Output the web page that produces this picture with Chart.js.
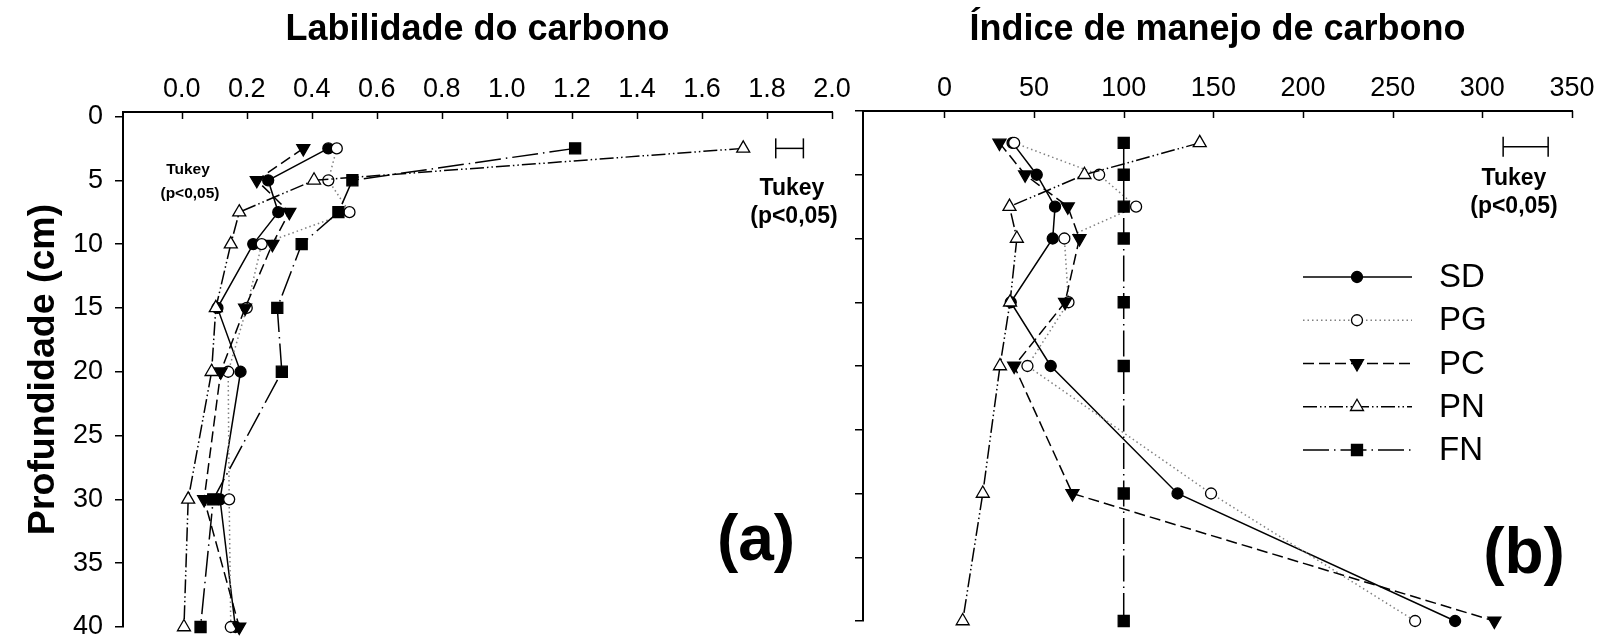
<!DOCTYPE html>
<html><head><meta charset="utf-8">
<script src="https://cdn.jsdelivr.net/npm/chart.js@4/dist/chart.umd.min.js"></script>
<style>
html,body{margin:0;padding:0;background:#fff;overflow:hidden}
#wrap{position:relative;width:1603px;height:640px;background:#fff}
canvas{position:absolute;top:0}
#cA{left:0}
#cB{left:850px}
</style></head><body>
<div id="wrap"><canvas id="cA" width="850" height="640"></canvas><canvas id="cB" width="753" height="640"></canvas></div>
<script>
// ---- data ----
const depths = [2.5, 5, 7.5, 10, 15, 20, 30, 40];
const depthTicks = [0, 5, 10, 15, 20, 25, 30, 35, 40];
const labTicks = [0, 0.2, 0.4, 0.6, 0.8, 1.0, 1.2, 1.4, 1.6, 1.8, 2.0];
const imcTicks = [0, 50, 100, 150, 200, 250, 300, 350];
const seriesNames = ['SD', 'PG', 'PC', 'PN', 'FN'];

// Labilidade do carbono (a)
const lab_SD = [0.451, 0.266, 0.297, 0.220, 0.110, 0.181, 0.118, 0.165];
const lab_PG = [0.477, 0.451, 0.516, 0.246, 0.200, 0.143, 0.146, 0.151];
const lab_PC = [0.374, 0.231, 0.331, 0.279, 0.195, 0.120, 0.069, 0.177];
const lab_PN = [1.727, 0.407, 0.177, 0.151, 0.105, 0.092, 0.020, 0.007];
const lab_FN = [1.210, 0.525, 0.482, 0.369, 0.294, 0.308, 0.097, 0.058];

// Índice de manejo de carbono (b)
const imc_SD = [38, 51.5, 61.7, 60.4, 37, 59.3, 130, 284.8];
const imc_PG = [38.9, 86.3, 106.9, 66.9, 69.2, 46.3, 148.7, 262.5];
const imc_PC = [30.7, 45, 68.8, 75.3, 67.3, 38.9, 71.4, 306.7];
const imc_PN = [142.4, 78.1, 36.3, 40.4, 36.6, 31, 21.4, 10.2];
const imc_FN = [100, 100, 100, 100, 100, 100, 100, 100];

// Tukey (p<0,05) bars
const tukeyLab = [1.827, 1.912];
const tukeyLabDepth = 2.5;
const tukeyImc = [311.6, 336.7];
const tukeyImcDepth = 2.8;

// ---- styles ----
const FONT = '"Liberation Sans", Arial, Helvetica, sans-serif';
const styles = {
  SD: {line: '#000', dash: [], point: 'circle', rot: 0, r: 5.5, fill: '#000', order: 4},
  PG: {line: '#808080', dash: [1.5, 3], point: 'circle', rot: 0, r: 5.5, fill: '#fff', order: 3},
  PC: {line: '#000', dash: [11, 5], point: 'triangle', rot: 180, r: 7.5, fill: '#000', order: 2},
  PN: {line: '#000', dash: [14, 3, 1.5, 3, 1.5, 3], point: 'triangle', rot: 0, r: 7.5, fill: '#fff', order: 1},
  FN: {line: '#000', dash: [26, 5, 1.5, 5], point: 'rect', rot: 0, r: 7.8, fill: '#000', order: 0}
};

function buildDatasets(vals, tukeyX, tukeyDepth) {
  const ds = seriesNames.map((name, k) => {
    const st = styles[name];
    return {
      label: name,
      data: depths.map((d, i) => ({x: vals[k][i], y: d})),
      borderColor: st.line,
      borderWidth: 1.5,
      borderDash: st.dash,
      tension: 0,
      fill: false,
      clip: false,
      order: st.order,
      pointStyle: st.point,
      pointRotation: st.rot,
      pointRadius: st.r,
      pointBackgroundColor: st.fill,
      pointBorderColor: '#000',
      pointBorderWidth: 1.3
    };
  });
  ds.push({
    label: 'Tukey',
    data: tukeyX.map(v => ({x: v, y: tukeyDepth})),
    borderColor: '#000',
    borderWidth: 1.5,
    borderDash: [],
    tension: 0,
    clip: false,
    order: 5,
    pointStyle: 'line',
    pointRotation: 90,
    pointRadius: 10,
    pointBorderColor: '#000',
    pointBorderWidth: 1.5
  });
  return ds;
}

function extrasPlugin(texts, legend) {
  return {
    id: 'extras',
    afterDraw(chart) {
      const ctx = chart.ctx;
      const ca = chart.chartArea;
      const xs = chart.scales.x;
      ctx.save();
      // inward tick marks on top axis
      ctx.strokeStyle = '#000';
      ctx.lineWidth = 1.5;
      ctx.setLineDash([]);
      xs.ticks.forEach(t => {
        const px = Math.round(xs.getPixelForValue(t.value)) + 0.5;
        ctx.beginPath();
        ctx.moveTo(px, ca.top);
        ctx.lineTo(px, ca.top + 7);
        ctx.stroke();
      });
      // texts
      ctx.fillStyle = '#000';
      ctx.textBaseline = 'middle';
      texts.forEach(t => {
        ctx.font = t.font;
        ctx.textAlign = 'center';
        ctx.fillText(t.text, t.x, t.y);
      });
      // legend
      if (legend) {
        const dsets = chart.data.datasets;
        seriesNames.forEach((name, i) => {
          const d = dsets[i];
          const y = legend.y0 + i * legend.dy;
          ctx.strokeStyle = d.borderColor;
          ctx.lineWidth = 1.5;
          ctx.setLineDash(d.borderDash);
          ctx.beginPath();
          ctx.moveTo(legend.x0, y);
          ctx.lineTo(legend.x1, y);
          ctx.stroke();
          ctx.setLineDash([]);
          ctx.fillStyle = d.pointBackgroundColor;
          ctx.strokeStyle = '#000';
          ctx.lineWidth = 1.3;
          Chart.helpers.drawPoint(ctx, {pointStyle: d.pointStyle, rotation: d.pointRotation, radius: d.pointRadius, borderWidth: 1.3}, legend.xm, y);
          ctx.fillStyle = '#000';
          ctx.font = '33px ' + FONT;
          ctx.textAlign = 'left';
          ctx.textBaseline = 'middle';
          ctx.fillText(name, legend.xt, y + 1);
        });
      }
      ctx.restore();
    }
  };
}

function zeroPad(s) {
  s.paddingTop = 0; s.paddingBottom = 0; s.paddingLeft = 0; s.paddingRight = 0;
}

function makeChart(canvasId, cfg) {
  return new Chart(document.getElementById(canvasId), {
    type: 'line',
    data: {datasets: buildDatasets(cfg.vals, cfg.tukeyX, cfg.tukeyDepth)},
    options: {
      responsive: false,
      animation: false,
      devicePixelRatio: 1,
      layout: {padding: cfg.padding},
      plugins: {legend: {display: false}, tooltip: {enabled: false}, title: {display: false}},
      scales: {
        x: {
          type: 'linear',
          position: 'top',
          min: cfg.xmin,
          max: cfg.xmax,
          afterBuildTicks: s => { s.ticks = cfg.xTicks.map(v => ({value: v})); },
          afterFit: s => { s.height = cfg.xHeight; zeroPad(s); },
          ticks: {
            autoSkip: false, maxRotation: 0, color: '#000', padding: 8.5,
            font: {family: FONT, size: 27, lineHeight: 1},
            callback: cfg.xFmt
          },
          grid: {display: true, drawOnChartArea: false, drawTicks: false},
          border: {display: true, color: '#000', width: 2},
          title: {display: true, text: cfg.title, color: '#000', font: {family: FONT, size: 36, weight: 'bold', lineHeight: 1.2}, padding: {top: 8, bottom: 0}}
        },
        y: {
          type: 'linear',
          reverse: true,
          min: cfg.ymin,
          max: 40,
          afterBuildTicks: s => { s.ticks = depthTicks.map(v => ({value: v})); },
          afterFit: s => { s.width = cfg.yWidth; zeroPad(s); },
          ticks: {
            color: '#000', padding: cfg.yPad,
            font: {family: FONT, size: 27, lineHeight: 1},
            callback: cfg.yFmt
          },
          grid: {display: true, drawOnChartArea: false, drawTicks: true, tickLength: 8, color: '#000', lineWidth: 1.5},
          border: {display: true, color: '#000', width: 2},
          title: cfg.yTitle
        }
      }
    },
    plugins: [extrasPlugin(cfg.texts, cfg.legend)]
  });
}

makeChart('cA', {
  vals: [lab_SD, lab_PG, lab_PC, lab_PN, lab_FN],
  tukeyX: tukeyLab, tukeyDepth: tukeyLabDepth,
  padding: {left: 0, top: 0, right: 18, bottom: 13},
  xmin: -0.1805, xmax: 2.0, xTicks: labTicks, xHeight: 112,
  xFmt: v => Number(v).toFixed(1),
  title: 'Labilidade do carbono',
  ymin: -0.35, yWidth: 123, yPad: 12,
  yFmt: v => String(v),
  yTitle: {display: true, text: 'Profundidade (cm)', color: '#000', font: {family: FONT, size: 37.5, weight: 'bold', lineHeight: 1.2}, padding: {top: 21, bottom: 0}},
  texts: [
    {text: 'Tukey', x: 188, y: 170, font: 'bold 15.5px ' + FONT},
    {text: '(p<0,05)', x: 190, y: 194, font: 'bold 15.5px ' + FONT},
    {text: 'Tukey', x: 792, y: 189, font: 'bold 23px ' + FONT},
    {text: '(p<0,05)', x: 794, y: 217, font: 'bold 23px ' + FONT},
    {text: '(a)', x: 756, y: 542, font: 'bold 64px ' + FONT}
  ],
  legend: null
});

makeChart('cB', {
  vals: [imc_SD, imc_PG, imc_PC, imc_PN, imc_FN],
  tukeyX: tukeyImc, tukeyDepth: tukeyImcDepth,
  padding: {left: 0, top: 0, right: 31, bottom: 19},
  xmin: -45.4, xmax: 350, xTicks: imcTicks, xHeight: 111,
  xFmt: v => String(Math.round(v)),
  title: 'Índice de manejo de carbono',
  ymin: 0, yWidth: 13, yPad: 0,
  yFmt: () => '',
  yTitle: {display: false},
  texts: [
    {text: 'Tukey', x: 1514 - 850, y: 179, font: 'bold 23px ' + FONT},
    {text: '(p<0,05)', x: 1514 - 850, y: 207, font: 'bold 23px ' + FONT},
    {text: '(b)', x: 1524 - 850, y: 555, font: 'bold 64px ' + FONT}
  ],
  legend: {x0: 1303 - 850, x1: 1412 - 850, xm: 1357 - 850, xt: 1439 - 850, y0: 277, dy: 43.25}
});
</script>
</body></html>
